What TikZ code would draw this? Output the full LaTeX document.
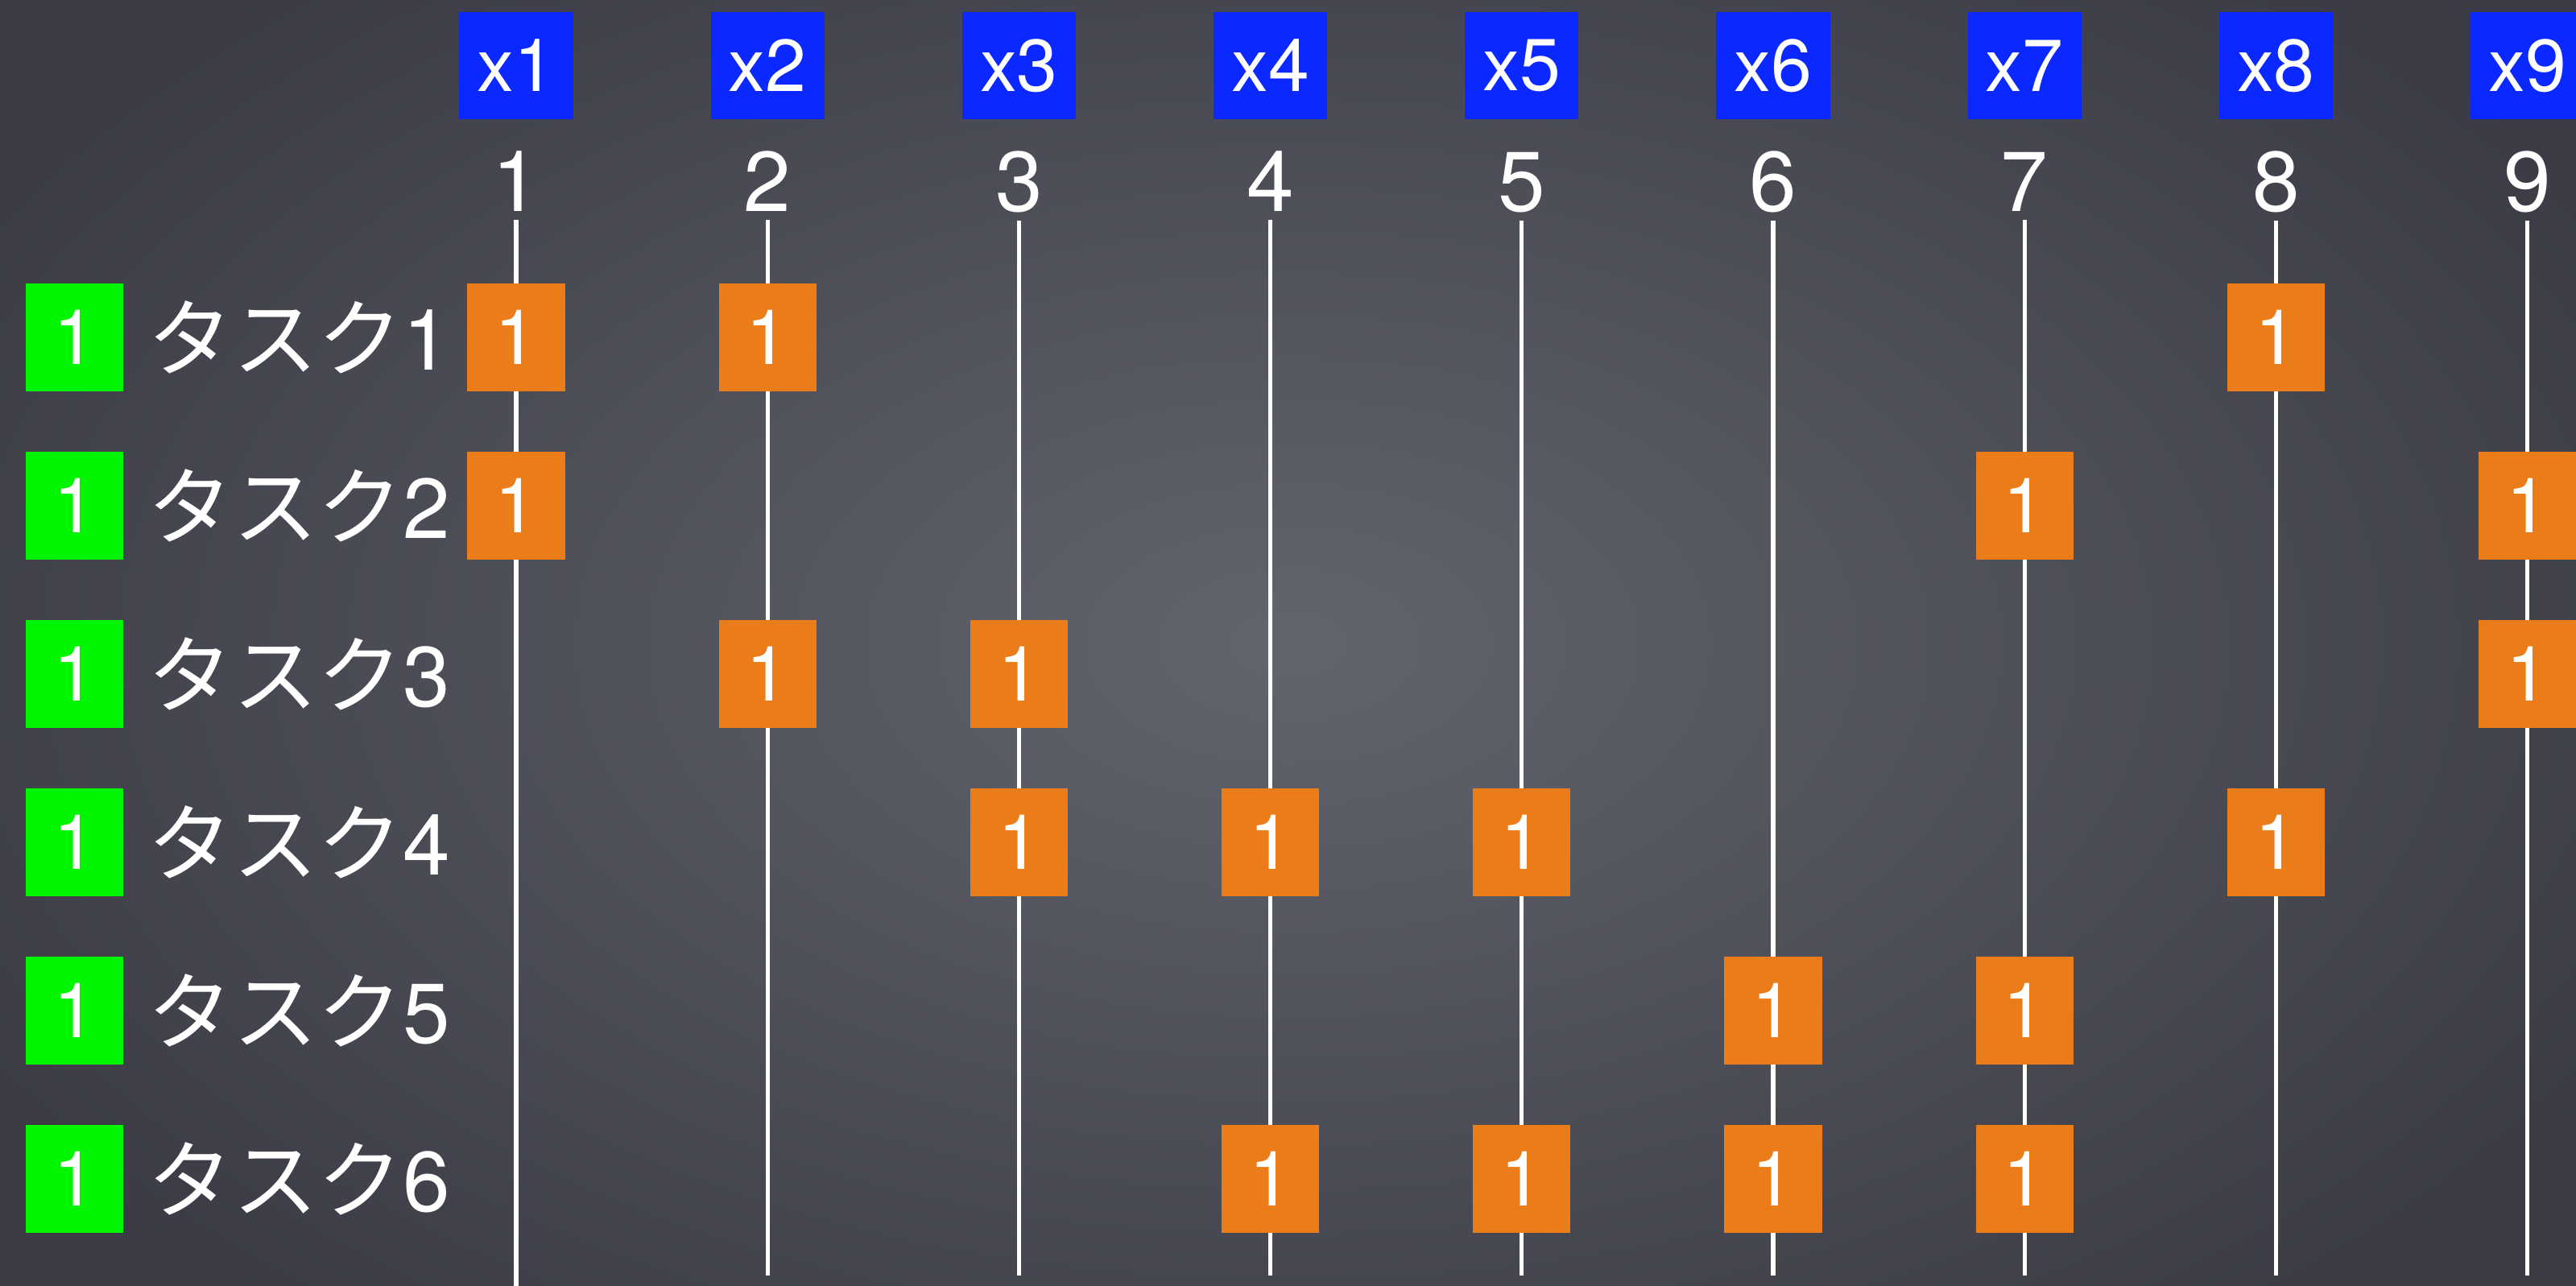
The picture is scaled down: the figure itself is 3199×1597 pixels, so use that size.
\documentclass[tikz,border=0pt]{standalone}
\usepackage{fontspec}
\setmainfont{TeX Gyre Heros}
\newfontfamily\jpfont{Noto Sans CJK JP}
\usepackage{tikz}
\usetikzlibrary{positioning}

\definecolor{hdrblue}{RGB}{10,40,255}
\definecolor{cellorange}{RGB}{234,124,26}
\definecolor{flaggreen}{RGB}{0,245,0}
\definecolor{bgin}{RGB}{98,100,110}
\definecolor{bgout}{RGB}{58,59,68}

\begin{document}
\begin{tikzpicture}[
            x=0.01cm, y=-0.01cm, % one unit = one pixel of the slide
            varbox/.style={fill=hdrblue, text=white, inner sep=0pt, minimum width=1.41cm, minimum height=1.33cm, font=\fontsize{26}{30}\selectfont},
            colnum/.style={text=white, inner sep=0pt, anchor=base, font=\fontsize{30}{36}\selectfont},
            rail/.style={draw=white, line width=1.5pt},
            cell/.style={fill=cellorange, text=white, inner sep=0pt, minimum width=1.21cm, minimum height=1.33cm, font=\fontsize{27}{32}\selectfont},
            flag/.style={fill=flaggreen, text=white, inner sep=0pt, minimum width=1.21cm, minimum height=1.33cm, font=\fontsize{27}{32}\selectfont},
            task/.style={text=white, inner sep=0pt, anchor=base west, font=\fontsize{30}{36}\selectfont}
        ]
        
        % Background
        \useasboundingbox (0,0) rectangle (3199,1597);
        \clip (0,0) rectangle (3199,1597);
        \shade[inner color=bgin, outer color=bgout] (-300,-300) rectangle (3500,1900);
        
        % Variables x1 ... x9 with their rails
        \foreach \c in {1,...,9} {
            \pgfmathsetmacro{\cx}{641+(\c-1)*312.2}
            \pgfmathsetmacro{\cy}{\c==1 ? 1597 : 1584}
            \node[varbox] (x\c) at (\cx,81.5) {x\c};
            \node[colnum] (n\c) at (\cx,262) {\c};
            \coordinate (b\c) at (\cx,\cy);
            \draw[rail] ([yshift=-0.1cm]n\c.south) -- (b\c);
        }
        
        % Tasks
        \foreach \r in {1,...,6} {
            \pgfmathsetmacro{\ry}{419+(\r-1)*209}
            \node[flag] (f\r) at (92.5,\ry) {1};
            \node[task] (t\r) at (183,\ry+40) {{\jpfont タスク}\r};
        }
        
        % Ones of the matrix
        \foreach \r/\c in {1/1,1/2,1/8, 2/1,2/7,2/9, 3/2,3/3,3/9, 4/3,4/4,4/5,4/8, 5/6,5/7, 6/4,6/5,6/6,6/7}
            \node[cell] (c\r-\c) at (x\c |- f\r) {1};
        
        \end{tikzpicture}
\end{document}
